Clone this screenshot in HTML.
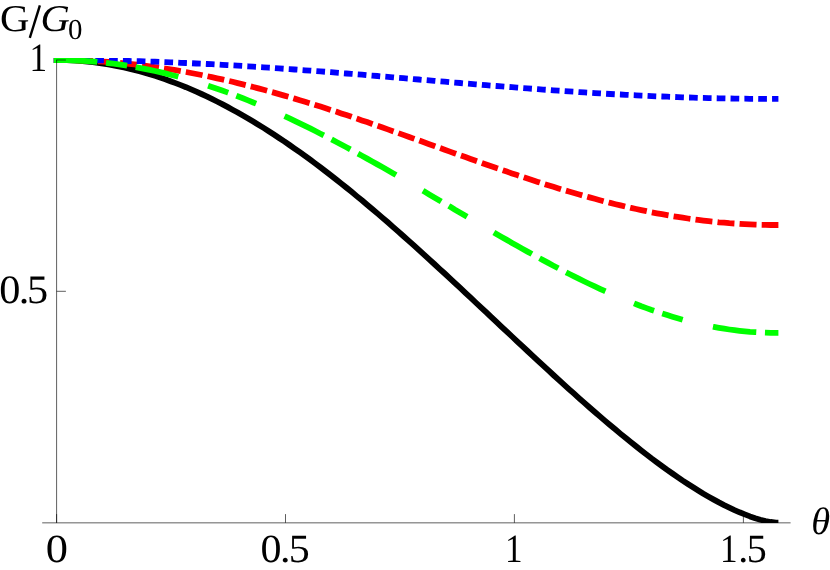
<!DOCTYPE html>
<html><head><meta charset="utf-8"><title>G/G0</title>
<style>
html,body{margin:0;padding:0;background:#fff;}
body{width:830px;height:570px;overflow:hidden;font-family:"Liberation Serif",serif;}
svg{display:block;}
text{font-family:"Liberation Serif",serif;fill:#000;}
</style></head><body>
<svg width="830" height="570" viewBox="0 0 830 570">
<rect width="830" height="570" fill="#fff"/>
<defs><clipPath id="pr"><rect x="40" y="57.9" width="760" height="465.1"/></clipPath></defs>
<g clip-path="url(#pr)" fill="none" stroke-width="5.8" stroke-linecap="butt" stroke-linejoin="round">
<path d="M54.1 60.0 L56.6 60.0 L61.8 60.0 L66.9 60.2 L72.1 60.4 L77.3 60.7 L82.5 61.1 L87.6 61.6 L92.8 62.2 L98.0 62.8 L103.2 63.6 L108.3 64.4 L113.5 65.3 L118.7 66.4 L123.9 67.5 L129.0 68.6 L134.2 69.9 L139.4 71.3 L144.6 72.7 L149.7 74.2 L154.9 75.8 L160.1 77.5 L165.3 79.3 L170.4 81.2 L175.6 83.1 L180.8 85.1 L186.0 87.2 L191.1 89.4 L196.3 91.7 L201.5 94.0 L206.7 96.4 L211.8 98.9 L217.0 101.5 L222.2 104.1 L227.4 106.9 L232.5 109.7 L237.7 112.5 L242.9 115.5 L248.1 118.5 L253.2 121.6 L258.4 124.7 L263.6 127.9 L268.8 131.2 L273.9 134.5 L279.1 138.0 L284.3 141.4 L289.5 145.0 L294.6 148.6 L299.8 152.2 L305.0 155.9 L310.2 159.7 L315.3 163.5 L320.5 167.4 L325.7 171.4 L330.9 175.4 L336.0 179.4 L341.2 183.5 L346.4 187.6 L351.6 191.8 L356.7 196.1 L361.9 200.3 L367.1 204.7 L372.2 209.0 L377.4 213.4 L382.6 217.9 L387.8 222.3 L392.9 226.8 L398.1 231.4 L403.3 236.0 L408.5 240.6 L413.6 245.2 L418.8 249.9 L424.0 254.6 L429.2 259.3 L434.3 264.0 L439.5 268.8 L444.7 273.5 L449.9 278.3 L455.0 283.1 L460.2 287.9 L465.4 292.8 L470.6 297.6 L475.7 302.5 L480.9 307.3 L486.1 312.2 L491.3 317.1 L496.4 321.9 L501.6 326.8 L506.8 331.6 L512.0 336.5 L517.1 341.3 L522.3 346.2 L527.5 351.0 L532.7 355.8 L537.8 360.6 L543.0 365.4 L548.2 370.2 L553.4 375.0 L558.5 379.7 L563.7 384.4 L568.9 389.1 L574.1 393.7 L579.2 398.3 L584.4 402.9 L589.6 407.5 L594.8 412.0 L599.9 416.4 L605.1 420.9 L610.3 425.3 L615.5 429.6 L620.6 433.9 L625.8 438.1 L631.0 442.3 L636.2 446.4 L641.3 450.5 L646.5 454.5 L651.7 458.5 L656.9 462.3 L662.0 466.1 L667.2 469.9 L672.4 473.5 L677.6 477.1 L682.7 480.6 L687.9 484.0 L693.1 487.3 L698.2 490.5 L703.4 493.7 L708.6 496.7 L713.8 499.6 L718.9 502.4 L724.1 505.1 L729.3 507.6 L734.5 510.1 L739.6 512.3 L744.8 514.4 L750.0 516.4 L755.2 518.2 L760.3 519.7 L765.5 521.0 L770.7 522.0 L775.9 522.6 L778.4 522.6" stroke="#000"/>
<path d="M53.7 60.0 L56.6 60.0 L61.8 60.0 L66.9 60.1 L72.1 60.2 L77.3 60.3 L82.5 60.5 L87.6 60.7 L92.8 61.0 L98.0 61.3 L103.2 61.6 L108.3 62.0 L113.5 62.4 L118.7 62.8 L123.9 63.3 L129.0 63.8 L134.2 64.4 L139.4 65.0 L144.6 65.6 L149.7 66.3 L154.9 67.0 L160.1 67.8 L165.3 68.6 L170.4 69.4 L175.6 70.2 L180.8 71.1 L186.0 72.0 L191.1 73.0 L196.3 74.0 L201.5 75.0 L206.7 76.1 L211.8 77.2 L217.0 78.3 L222.2 79.4 L227.4 80.6 L232.5 81.8 L237.7 83.1 L242.9 84.4 L248.1 85.7 L253.2 87.0 L258.4 88.4 L263.6 89.8 L268.8 91.2 L273.9 92.6 L279.1 94.1 L284.3 95.6 L289.5 97.1 L294.6 98.6 L299.8 100.2 L305.0 101.8 L310.2 103.4 L315.3 105.0 L320.5 106.6 L325.7 108.3 L330.9 110.0 L336.0 111.6 L341.2 113.4 L346.4 115.1 L351.6 116.8 L356.7 118.6 L361.9 120.4 L367.1 122.1 L372.2 123.9 L377.4 125.7 L382.6 127.5 L387.8 129.4 L392.9 131.2 L398.1 133.0 L403.3 134.9 L408.5 136.7 L413.6 138.6 L418.8 140.4 L424.0 142.3 L429.2 144.2 L434.3 146.0 L439.5 147.9 L444.7 149.7 L449.9 151.6 L455.0 153.4 L460.2 155.3 L465.4 157.1 L470.6 159.0 L475.7 160.8 L480.9 162.6 L486.1 164.5 L491.3 166.3 L496.4 168.1 L501.6 169.8 L506.8 171.6 L512.0 173.4 L517.1 175.1 L522.3 176.8 L527.5 178.5 L532.7 180.2 L537.8 181.9 L543.0 183.6 L548.2 185.2 L553.4 186.8 L558.5 188.4 L563.7 190.0 L568.9 191.5 L574.1 193.0 L579.2 194.5 L584.4 196.0 L589.6 197.4 L594.8 198.8 L599.9 200.2 L605.1 201.6 L610.3 202.9 L615.5 204.2 L620.6 205.4 L625.8 206.7 L631.0 207.9 L636.2 209.0 L641.3 210.1 L646.5 211.2 L651.7 212.3 L656.9 213.3 L662.0 214.2 L667.2 215.2 L672.4 216.1 L677.6 216.9 L682.7 217.7 L687.9 218.5 L693.1 219.2 L698.2 219.9 L703.4 220.6 L708.6 221.2 L713.8 221.7 L718.9 222.3 L724.1 222.7 L729.3 223.2 L734.5 223.5 L739.6 223.9 L744.8 224.2 L750.0 224.4 L755.2 224.6 L760.3 224.8 L765.5 224.9 L770.7 225.0 L775.9 225.0 L778.4 225.0" stroke="#ff0000" stroke-dasharray="17 5.145"/>
<path d="M53.7 60.0 L56.6 60.0 L61.8 60.0 L66.9 60.0 L72.1 60.0 L77.3 60.1 L82.5 60.1 L87.6 60.2 L92.8 60.2 L98.0 60.3 L103.2 60.4 L108.3 60.5 L113.5 60.6 L118.7 60.7 L123.9 60.8 L129.0 61.0 L134.2 61.1 L139.4 61.2 L144.6 61.4 L149.7 61.6 L154.9 61.7 L160.1 61.9 L165.3 62.1 L170.4 62.3 L175.6 62.5 L180.8 62.8 L186.0 63.0 L191.1 63.2 L196.3 63.5 L201.5 63.7 L206.7 64.0 L211.8 64.2 L217.0 64.5 L222.2 64.8 L227.4 65.1 L232.5 65.4 L237.7 65.7 L242.9 66.0 L248.1 66.3 L253.2 66.7 L258.4 67.0 L263.6 67.3 L268.8 67.7 L273.9 68.0 L279.1 68.4 L284.3 68.8 L289.5 69.1 L294.6 69.5 L299.8 69.9 L305.0 70.3 L310.2 70.6 L315.3 71.0 L320.5 71.4 L325.7 71.8 L330.9 72.2 L336.0 72.7 L341.2 73.1 L346.4 73.5 L351.6 73.9 L356.7 74.3 L361.9 74.7 L367.1 75.2 L372.2 75.6 L377.4 76.0 L382.6 76.5 L387.8 76.9 L392.9 77.3 L398.1 77.8 L403.3 78.2 L408.5 78.6 L413.6 79.1 L418.8 79.5 L424.0 80.0 L429.2 80.4 L434.3 80.8 L439.5 81.3 L444.7 81.7 L449.9 82.2 L455.0 82.6 L460.2 83.0 L465.4 83.5 L470.6 83.9 L475.7 84.3 L480.9 84.7 L486.1 85.2 L491.3 85.6 L496.4 86.0 L501.6 86.4 L506.8 86.8 L512.0 87.2 L517.1 87.6 L522.3 88.0 L527.5 88.4 L532.7 88.8 L537.8 89.2 L543.0 89.6 L548.2 89.9 L553.4 90.3 L558.5 90.7 L563.7 91.0 L568.9 91.4 L574.1 91.7 L579.2 92.1 L584.4 92.4 L589.6 92.7 L594.8 93.1 L599.9 93.4 L605.1 93.7 L610.3 94.0 L615.5 94.3 L620.6 94.5 L625.8 94.8 L631.0 95.1 L636.2 95.3 L641.3 95.6 L646.5 95.8 L651.7 96.1 L656.9 96.3 L662.0 96.5 L667.2 96.7 L672.4 96.9 L677.6 97.1 L682.7 97.3 L687.9 97.5 L693.1 97.6 L698.2 97.8 L703.4 97.9 L708.6 98.1 L713.8 98.2 L718.9 98.3 L724.1 98.4 L729.3 98.5 L734.5 98.6 L739.6 98.7 L744.8 98.7 L750.0 98.8 L755.2 98.8 L760.3 98.9 L765.5 98.9 L770.7 98.9 L775.9 98.9 L778.4 98.9" stroke="#0000ff" stroke-dasharray="8.7 5.14"/>
<path d="M53.7 60.0 L56.6 60.0 L61.8 60.0 L66.9 60.1 L72.1 60.3 L77.3 60.5 L82.5 60.8 L87.6 61.1 L92.8 61.5 L98.0 62.0 L103.2 62.5 L108.3 63.1 L113.5 63.7 L118.7 64.4 L123.9 65.2 L129.0 66.0 L134.2 66.9 L139.4 67.8 L144.6 68.8 L149.7 69.9 L154.9 71.0 L160.1 72.2 L165.3 73.4 L170.4 74.7 L175.6 76.0 L180.8 77.4 L186.0 78.9 L191.1 80.4 L196.3 81.9 L201.5 83.6 L206.7 85.2 L211.8 86.9 L217.0 88.7 L222.2 90.5 L227.4 92.4 L232.5 94.3 L237.7 96.3 L242.9 98.3 L248.1 100.4 L253.2 102.5 L258.4 104.6 L263.6 106.8 L268.8 109.1 L273.9 111.3 L279.1 113.7 L284.3 116.0 L289.5 118.4 L294.6 120.9 L299.8 123.4 L305.0 125.9 L310.2 128.4 L315.3 131.0 L320.5 133.7 L325.7 136.3 L330.9 139.0 L336.0 141.7 L341.2 144.5 L346.4 147.2 L351.6 150.0 L356.7 152.9 L361.9 155.7 L367.1 158.6 L372.2 161.5 L377.4 164.4 L382.6 167.3 L387.8 170.3 L392.9 173.2 L398.1 176.2 L403.3 179.2 L408.5 182.2 L413.6 185.3 L418.8 188.3 L424.0 191.3 L429.2 194.4 L434.3 197.4 L439.5 200.5 L444.7 203.6 L449.9 206.6 L455.0 209.7 L460.2 212.7 L465.4 215.8 L470.6 218.8 L475.7 221.9 L480.9 224.9 L486.1 227.9 L491.3 231.0 L496.4 234.0 L501.6 237.0 L506.8 239.9 L512.0 242.9 L517.1 245.8 L522.3 248.7 L527.5 251.6 L532.7 254.5 L537.8 257.3 L543.0 260.1 L548.2 262.9 L553.4 265.7 L558.5 268.4 L563.7 271.1 L568.9 273.8 L574.1 276.4 L579.2 278.9 L584.4 281.5 L589.6 284.0 L594.8 286.4 L599.9 288.8 L605.1 291.2 L610.3 293.5 L615.5 295.7 L620.6 297.9 L625.8 300.1 L631.0 302.2 L636.2 304.2 L641.3 306.2 L646.5 308.1 L651.7 310.0 L656.9 311.7 L662.0 313.5 L667.2 315.1 L672.4 316.7 L677.6 318.2 L682.7 319.7 L687.9 321.1 L693.1 322.4 L698.2 323.6 L703.4 324.8 L708.6 325.9 L713.8 326.9 L718.9 327.8 L724.1 328.7 L729.3 329.5 L734.5 330.2 L739.6 330.8 L744.8 331.3 L750.0 331.8 L755.2 332.1 L760.3 332.4 L765.5 332.6 L770.7 332.8 L775.9 332.8 L778.4 332.8" stroke="#00ff00" stroke-dasharray="43.7 8.7 21.3 8.7 43.7 31.1 21.3 8.7 21.3 31.1"/>
</g>
<g stroke="#000" stroke-width="0.7" fill="none" stroke-opacity="0.9">
<path d="M42.2 522.85H790.6"/>
<path d="M56.6 522.85V59.7"/>
<path d="M56.6 514.1v8.7M285.5 514.1v8.7M514.4 514.1v8.7M743.4 514.1v8.7"/>
<path d="M56.6 60H65.9M56.6 291.3H65.9"/>
</g>
<g style="will-change:transform" text-rendering="geometricPrecision">
<text transform="translate(0 561.8) scale(1.110 1)" font-size="40.0"><tspan x="41.22">0</tspan></text>
<text transform="translate(0 561.8) scale(1.050 1)" font-size="40.0"><tspan x="248.10">0</tspan><tspan x="266.62">.</tspan><tspan x="275.05">5</tspan></text>
<text transform="translate(0 561.8)" font-size="40.0"><tspan x="505.11" textLength="17.6" lengthAdjust="spacingAndGlyphs">1</tspan></text>
<text transform="translate(0 561.8)" font-size="40.0"><tspan x="719.91" textLength="17.6" lengthAdjust="spacingAndGlyphs">1</tspan><tspan x="738.15">.</tspan><tspan x="746.67">5</tspan></text>
<text transform="translate(0 71.4)" font-size="40.0"><tspan x="29.41" textLength="17.6" lengthAdjust="spacingAndGlyphs">1</tspan></text>
<text transform="translate(0 302.5) scale(1.050 1)" font-size="40.3"><tspan x="-0.74">0</tspan><tspan x="17.91">.</tspan><tspan x="25.64">5</tspan></text>
<text transform="translate(0 30.8) scale(1.075 1)" font-size="37.9"><tspan x="-0.10">G</tspan></text>
<text transform="translate(0 30.8) scale(1.07 1)" font-size="37.9" font-style="italic" x="37.87">G</text>
<text transform="translate(0 38.5)" font-size="28.9"><tspan x="68.12">0</tspan></text>
<text x="811.3" y="534.3" font-size="38.4" font-style="italic">θ</text>
</g>
<path d="M29.8 37.8L39.9 5.3" stroke="#000" stroke-width="2.4" fill="none"/>
</svg>
</body></html>
